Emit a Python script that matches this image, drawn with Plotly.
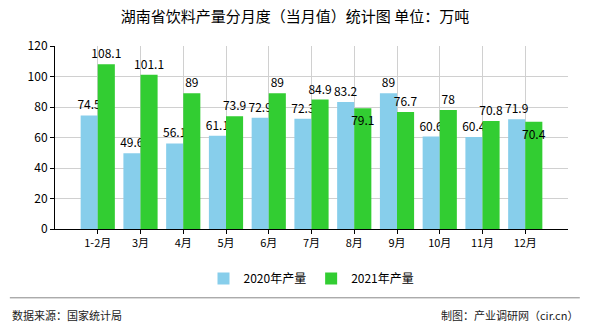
import plotly.graph_objects as go

categories = ["1-2月", "3月", "4月", "5月", "6月", "7月", "8月", "9月", "10月", "11月", "12月"]
values_2020 = [74.5, 49.6, 56.1, 61.1, 72.9, 72.3, 83.2, 89, 60.6, 60.4, 71.9]
values_2021 = [108.1, 101.1, 89, 73.9, 89, 84.9, 79.1, 76.7, 78, 70.8, 70.4]
series_names = ["2020年产量", "2021年产量"]
y_ticks = [0, 20, 40, 60, 80, 100, 120]

FONT = "Noto Sans CJK SC"

# avoid label collisions: put the 2021 label inside its bar when the 2020 bar is just above it
pos_2021 = ["inside" if 0 < a - b < 8 else "outside" for a, b in zip(values_2020, values_2021)]

fig = go.Figure()
fig.add_trace(go.Bar(x=categories, y=values_2020, name=series_names[0],
                     marker=dict(color="#87CEEB", line=dict(width=0)),
                     text=[str(v) for v in values_2020], textposition="outside",
                     constraintext="none", textangle=0,
                     textfont=dict(size=12, color="#000", family=FONT), cliponaxis=False))
fig.add_trace(go.Bar(x=categories, y=values_2021, name=series_names[1],
                     marker=dict(color="#32CD32", line=dict(width=0)),
                     text=[str(v) for v in values_2021], textposition=pos_2021,
                     insidetextanchor="end", constraintext="none", textangle=0,
                     textfont=dict(size=12, color="#000", family=FONT),
                     insidetextfont=dict(size=12, color="#000", family=FONT),
                     outsidetextfont=dict(size=12, color="#000", family=FONT),
                     cliponaxis=False))

fig.update_layout(
    width=590, height=330,
    margin=dict(l=55, r=22, t=46, b=101),
    paper_bgcolor="white", plot_bgcolor="white",
    barmode="group", bargap=0.2, bargroupgap=0,
    font=dict(family=FONT, size=11, color="#000"),
    title=dict(text="湖南省饮料产量分月度（当月值）统计图 单位：万吨", x=0.5, xanchor="center",
               y=0.95, yanchor="middle", font=dict(size=15, color="#000", family=FONT)),
    showlegend=True,
    legend=dict(orientation="h", x=0.5, xanchor="center", y=-0.27, yanchor="middle",
                font=dict(size=12, color="#000", family=FONT), itemwidth=30,
                traceorder="normal"),
)
fig.update_xaxes(
    type="category", range=[-1, 11], showline=True, linecolor="#000", linewidth=1,
    ticks="outside", ticklen=4, tickcolor="#000",
    showgrid=True, gridcolor="#d0d0d0", gridwidth=1,
    tickfont=dict(size=11, color="#000", family=FONT), mirror=False,
)
fig.update_yaxes(
    range=[0, 120], tickvals=y_ticks, showline=True, linecolor="#000", linewidth=1,
    ticks="outside", ticklen=4, tickcolor="#000",
    showgrid=True, gridcolor="#d0d0d0", gridwidth=1, zeroline=False,
    tickfont=dict(size=12, color="#000", family=FONT),
)

fig.add_shape(type="line", xref="paper", yref="paper", x0=-0.088, x1=1.023,
              y0=-0.376, y1=-0.376, line=dict(color="#888", width=1))
fig.add_annotation(text="数据来源：国家统计局", xref="paper", yref="paper", x=-0.088, y=-0.47,
                   xanchor="left", yanchor="middle", showarrow=False,
                   font=dict(size=11, color="#222", family=FONT))
fig.add_annotation(text="制图：产业调研网（cir.cn）", xref="paper", yref="paper", x=1.023, y=-0.47,
                   xanchor="right", yanchor="middle", showarrow=False,
                   font=dict(size=11, color="#222", family=FONT))

fig.write_html("out.html")
